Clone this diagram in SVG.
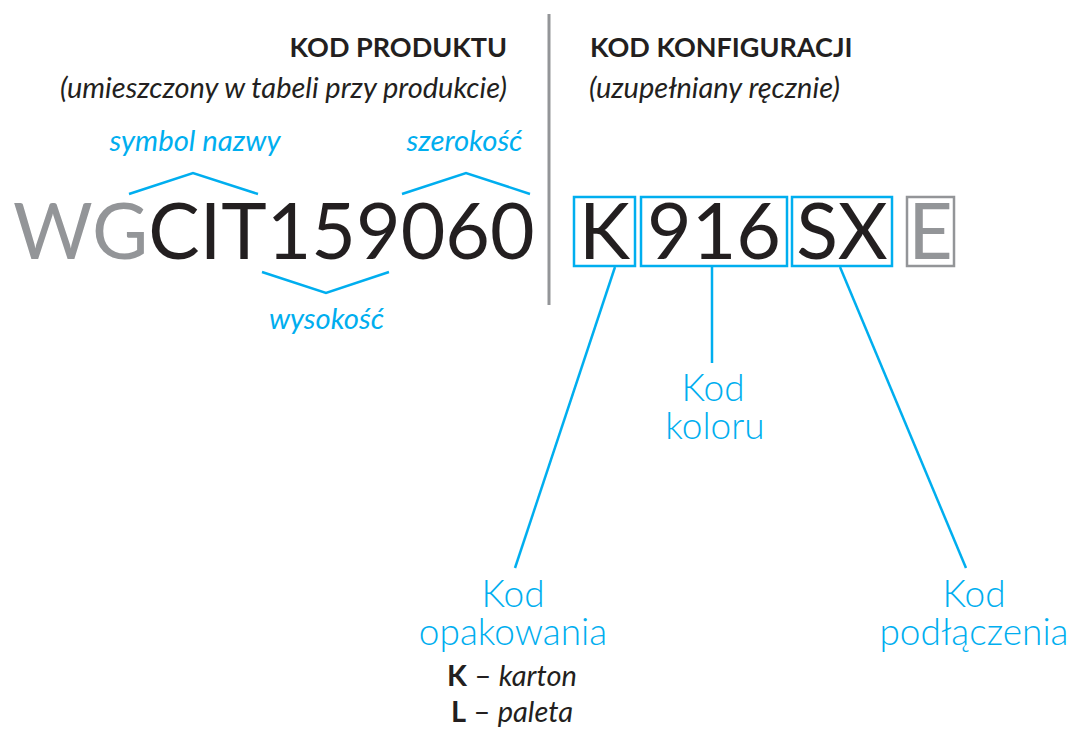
<svg xmlns="http://www.w3.org/2000/svg" width="1070" height="730" viewBox="0 0 1070 730">
<style>
text{font-family:Lato,"Noto Sans",sans-serif}
.h{font-weight:700;font-size:27px;fill:#231f20}
.s{font-style:italic;font-size:29px;fill:#231f20}
.bl{font-style:italic;font-size:29.3px;fill:#00aeef}
.big{font-size:77px;fill:#231f20;font-weight:400}
.g{fill:#939598}
.lab{font-size:37px;font-weight:300;fill:#00aeef;text-anchor:middle}
.opt{font-size:29px;fill:#231f20;text-anchor:middle}
.ln{fill:none;stroke:#00aeef;stroke-width:2.5}
.box{fill:none;stroke:#00aeef;stroke-width:2.5}
.gbox{fill:none;stroke:#939598;stroke-width:2.5}
</style>
<rect width="1070" height="730" fill="#fff"/>
<line x1="549" y1="14" x2="549" y2="305" stroke="#939598" stroke-width="3"/>
<g id="header-left">
<text class="h" x="507" y="57" text-anchor="end">KOD PRODUKTU</text>
<text class="s" x="507" y="98" text-anchor="end">(umieszczony w tabeli przy produkcie)</text>
</g>
<g id="header-right">
<text class="h" x="590" y="57">KOD KONFIGURACJI</text>
<text class="s" x="589" y="98">(uzupełniany ręcznie)</text>
</g>
<g id="product-code">
<text class="big" x="13" y="259"><tspan class="g">WG</tspan>CIT159060</text>
</g>
<g id="label-symbol"><text class="bl" x="195" y="151" text-anchor="middle">symbol nazwy</text></g>
<g id="label-szerokosc"><text class="bl" x="464.5" y="151" text-anchor="middle">szerokość</text></g>
<g id="label-wysokosc"><text class="bl" x="326.5" y="329" text-anchor="middle">wysokość</text></g>
<g id="box-K"><rect class="box" x="574" y="197" width="61" height="69"/><text class="big" x="604.5" y="259" text-anchor="middle">K</text></g>
<g id="box-916"><rect class="box" x="641" y="197" width="146" height="69"/><text class="big" x="714" y="259" text-anchor="middle">916</text></g>
<g id="box-SX"><rect class="box" x="792" y="197" width="100" height="69"/><text class="big" x="842" y="259" text-anchor="middle">SX</text></g>
<g id="box-E"><rect class="gbox" x="907" y="197" width="47" height="69"/><text class="big g" x="930.5" y="259" text-anchor="middle">E</text></g>
<g id="label-kolor"><text class="lab" x="713" y="401">Kod<tspan x="715" dy="38">koloru</tspan></text></g>
<g id="label-opak"><text class="lab" x="513" y="607">Kod<tspan x="513" dy="38">opakowania</tspan></text>
<text class="opt" x="512" y="686"><tspan font-weight="700">K</tspan> – <tspan font-style="italic">karton</tspan><tspan x="512" dy="36" font-weight="700">L</tspan> – <tspan font-style="italic">paleta</tspan></text></g>
<g id="label-podl"><text class="lab" x="974" y="607">Kod<tspan x="974" dy="38">podłączenia</tspan></text></g>
<g id="connectors">
<polyline class="ln" points="129,194 193,173 258,194"/>
<polyline class="ln" points="402,194 466,173 530,194"/>
<polyline class="ln" points="262,272 326,293 389,272"/>
<line class="ln" x1="615" y1="267" x2="515" y2="568"/>
<line class="ln" x1="712" y1="267" x2="712" y2="363"/>
<line class="ln" x1="840" y1="267" x2="966" y2="568"/>
</g>
</svg>
